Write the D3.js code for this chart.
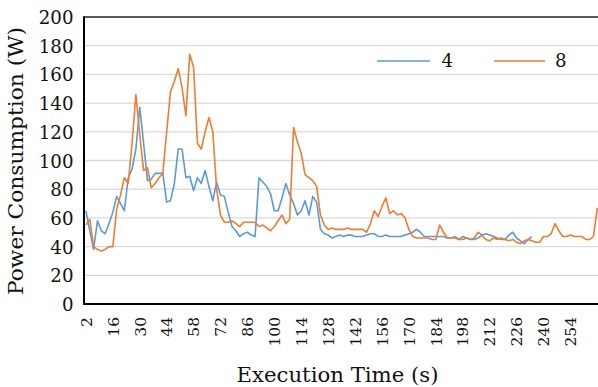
<!DOCTYPE html>
<html>
<head>
<meta charset="utf-8">
<script src="https://cdn.jsdelivr.net/npm/d3@7"></script>
<style>
  html, body { margin: 0; padding: 0; background: #fff; }
  svg { display: block; }
  text { font-family: "DejaVu Serif"; fill: #111; }
</style>
</head>
<body>
<svg id="chart" width="598" height="387"></svg>
<script>
// Execution time categories (seconds), sampled every 2 s
const times = d3.range(2, 270, 2);

// Power draw with 4 workers (W)
const power4 = [
  65, 51, 38, 58, 51, 49, 56, 64, 75, 70, 65, 88, 94, 108, 137, 112, 86, 87, 91, 91,
  91, 71, 72, 84, 108, 108, 88, 89, 79, 88, 84, 93, 82, 72, 85, 76, 75, 64, 54, 51,
  47, 49, 50, 48, 47, 88, 85, 82, 77, 65, 65, 74, 84, 76, 70, 62, 65, 72, 62, 75,
  71, 52, 49, 48, 46, 47, 48, 47, 48, 48, 47, 47, 47, 48, 49, 49, 47, 47, 48, 47,
  47, 47, 47, 48, 49, 50, 52, 50, 47, 47, 47, 47, 47, 47, 46, 46, 47, 45, 47, 46,
  45, 45, 46, 48, 49, 48, 47, 46, 45, 45, 48, 50, 46, 44, 42, 45, 47
];

// Power draw with 8 workers (W)
const power8 = [
  55, 59, 40, 38, 37, 38, 40, 40, 66, 76, 88, 84, 112, 146, 118, 93, 95, 81, 84, 88,
  91, 120, 148, 155, 164, 151, 131, 174, 165, 112, 108, 120, 130, 120, 80, 62, 57, 57, 58, 56,
  54, 57, 57, 57, 57, 54, 55, 53, 51, 54, 58, 62, 56, 59, 123, 113, 105, 90, 88, 86,
  82, 62, 55, 52, 53, 52, 52, 52, 53, 52, 52, 52, 52, 50, 56, 65, 61, 68, 74, 63,
  65, 62, 63, 60, 52, 47, 46, 46, 46, 46, 45, 45, 55, 50, 46, 46, 46, 45, 45, 46,
  45, 46, 50, 48, 45, 44, 46, 45, 46, 45, 44, 45, 43, 42, 44, 45, 44, 43, 43, 47,
  47, 49, 56, 51, 47, 47, 48, 47, 47, 47, 45, 45, 47, 67
];

const seriesNames = ["4", "8"];
const seriesColors = ["#5B9BD5", "#ED7D31"];
const yTicks = [0, 20, 40, 60, 80, 100, 120, 140, 160, 180, 200];
const xTickLabels = [2, 16, 30, 44, 58, 72, 86, 100, 114, 128, 142, 156, 170, 184, 198, 212, 226, 240, 254];

const yTitle = "Power Consumption (W)";
const xTitle = "Execution Time (s)";

const serifFace = '"DejaVu Serif"';

const svg = d3.select("#chart");
const plotLeft = 84, plotTop = 17, plotBottom = 304, bandW = 3.845;
const plotRight = plotLeft + times.length * bandW;

const x = d3.scaleBand().domain(times).range([plotLeft, plotRight]).padding(0);
const y = d3.scaleLinear().domain([0, 200]).range([plotBottom, plotTop]);
const cx = t => x(t) + x.bandwidth() / 2;

svg.append("rect").attr("width", 598).attr("height", 387).attr("fill", "#fff");

// horizontal gridlines
svg.append("g")
  .selectAll("line")
  .data(yTicks.filter(v => v > 0 && v < 200))
  .join("line")
  .attr("x1", plotLeft).attr("x2", plotRight)
  .attr("y1", d => y(d)).attr("y2", d => y(d))
  .attr("stroke", "#d9d9d9").attr("stroke-width", 1.3);

// plot frame top edge
svg.append("line")
  .attr("x1", plotLeft).attr("x2", plotRight)
  .attr("y1", y(200)).attr("y2", y(200))
  .attr("stroke", "#222").attr("stroke-width", 1.6);

// series lines
const series = [power4, power8];
const line = d3.line().x((d, i) => cx(times[i])).y(d => y(d));
series.forEach((vals, k) => {
  svg.append("path")
    .datum(vals)
    .attr("fill", "none")
    .attr("stroke", seriesColors[k])
    .attr("stroke-width", 1.6)
    .attr("stroke-linejoin", "round")
    .attr("d", line);
});

// y axis
const yAxis = svg.append("g")
  .attr("transform", `translate(${plotLeft},0)`)
  .call(d3.axisLeft(y).tickValues(yTicks).tickSize(0));
yAxis.attr("font-family", null);
yAxis.select(".domain").remove();
yAxis.selectAll("text")
  .style("font-family", serifFace)
  .style("font-size", "18.2px")
  .attr("fill", "#111")
  .attr("x", -10.5)
  .attr("dy", "0.36em");

// x axis
const xAxis = svg.append("g")
  .attr("transform", `translate(0,${plotBottom})`)
  .call(d3.axisBottom(x).tickValues(xTickLabels).tickSize(0));
xAxis.attr("font-family", null);
xAxis.select(".domain").remove();
xAxis.selectAll("text")
  .style("font-family", serifFace)
  .style("font-size", "15.5px")
  .attr("fill", "#111")
  .attr("text-anchor", "end")
  .attr("transform", "rotate(-90)")
  .attr("x", -13)
  .attr("y", 0)
  .attr("dy", "0.37em");

// axis lines
svg.append("line")
  .attr("x1", plotLeft).attr("x2", plotLeft).attr("y1", plotTop - 0.8).attr("y2", plotBottom + 1)
  .attr("stroke", "#000").attr("stroke-width", 2);
svg.append("line")
  .attr("x1", plotLeft - 1).attr("x2", plotRight).attr("y1", plotBottom).attr("y2", plotBottom)
  .attr("stroke", "#000").attr("stroke-width", 2);

// axis titles
svg.append("text")
  .attr("transform", `translate(23,161) rotate(-90)`)
  .attr("text-anchor", "middle")
  .attr("textLength", 268)
  .attr("lengthAdjust", "spacingAndGlyphs")
  .style("font-family", serifFace)
  .style("font-size", "20.5px")
  .text(yTitle);

svg.append("text")
  .attr("x", 337.5).attr("y", 381.5)
  .attr("text-anchor", "middle")
  .attr("textLength", 202)
  .attr("lengthAdjust", "spacingAndGlyphs")
  .style("font-family", serifFace)
  .style("font-size", "20.5px")
  .text(xTitle);

// legend
const legend = svg.append("g");
const legendItems = [
  { name: seriesNames[0], color: seriesColors[0], x1: 377, x2: 430, tx: 441.5 },
  { name: seriesNames[1], color: seriesColors[1], x1: 494, x2: 545, tx: 555 }
];
legendItems.forEach(it => {
  legend.append("line")
    .attr("x1", it.x1).attr("x2", it.x2).attr("y1", 61).attr("y2", 61)
    .attr("stroke", it.color).attr("stroke-width", 1.6);
  legend.append("text")
    .attr("x", it.tx).attr("y", 66.7)
    .style("font-family", serifFace)
    .style("font-size", "18.2px")
    .text(it.name);
});
</script>
</body>
</html>
